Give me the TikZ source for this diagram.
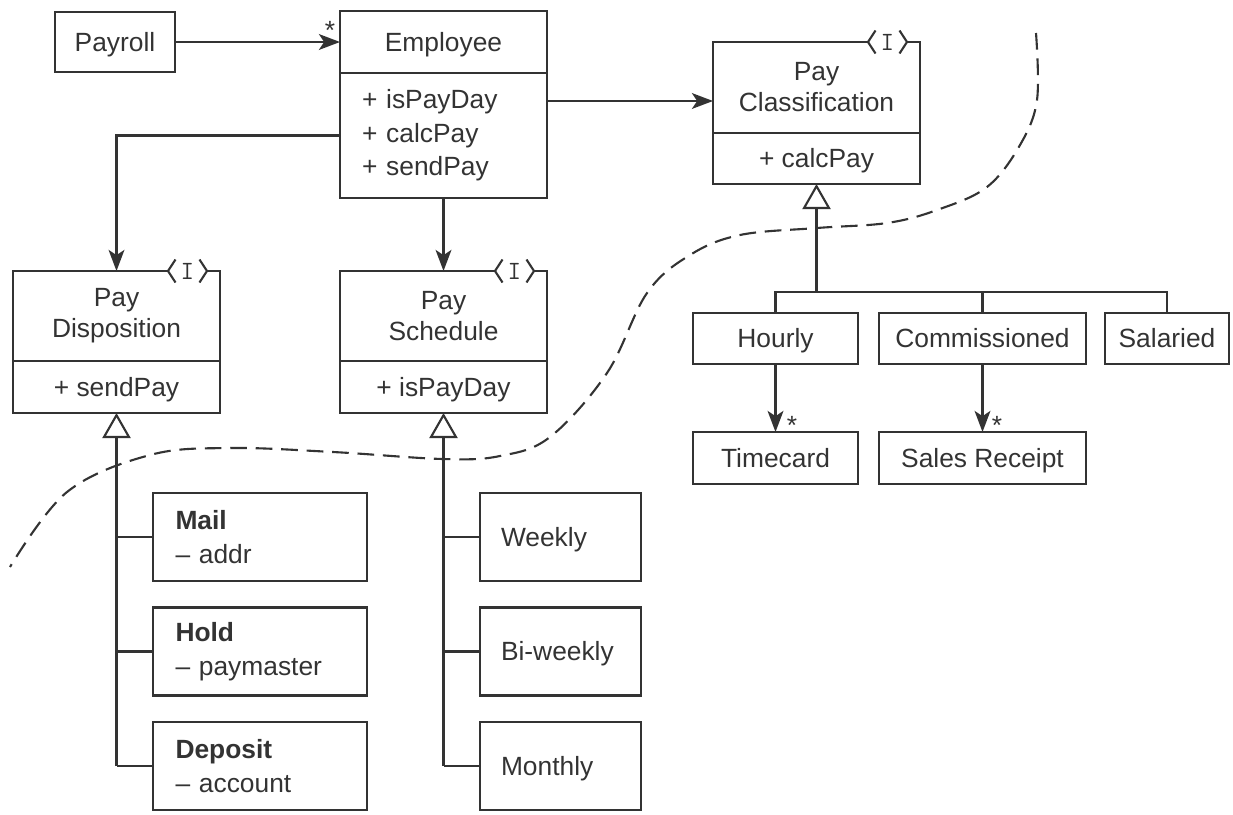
\documentclass[tikz,border=0pt]{standalone}
\usepackage{fontspec}
\setmainfont{Liberation Sans}
\usepackage{tikz}
\usetikzlibrary{positioning}
\usetikzlibrary{arrows.meta,calc}

\definecolor{inkgray}{gray}{0.2}

\tikzset{
  umlbox/.style={rectangle, draw=inkgray, text=inkgray, line width=1.2pt, outer sep=0pt, inner sep=0pt, align=center, font=\fontsize{15}{17.6}\selectfont},
  onebox/.style={umlbox, text height=12.5pt, text depth=2pt},
  listbox/.style={umlbox, align=left, font=\fontsize{15}{19}\selectfont},
  onelist/.style={listbox, text height=12.5pt, text depth=2pt},
  assoc/.style={draw=inkgray, line width=1.2pt, -{Stealth[length=12pt, width=9pt, inset=3pt]}},
  inherit/.style={draw=inkgray, line width=1.2pt, -{Triangle[open, length=0.5cm, width=0.56cm]}},
  tree/.style={draw=inkgray, line width=1.2pt},
  mult/.style={text=inkgray, inner sep=0pt, anchor=north, font=\fontsize{15}{15}\selectfont},
  boundary/.style={draw=inkgray, line width=1.2pt, dash pattern=on 9.5pt off 5pt}
}

% interface marker on the top edge of a class box
\newcommand{\ifacemark}[1]{%
  \begin{scope}[shift={(#1.north east)}]
    \fill[white] (-1.04,-0.06) rectangle (-0.26,0.06);
    \draw[inkgray, line width=1.2pt] (-0.89,0.23) -- (-1.04,0) -- (-0.89,-0.23);
    \draw[inkgray, line width=1.2pt] (-0.41,0.23) -- (-0.26,0) -- (-0.41,-0.23);
    \node[text=inkgray, inner sep=0pt, font=\fontsize{15}{15}\ttfamily] at (-0.65,0) {I};
  \end{scope}}

\begin{document}
\begin{tikzpicture}
  \useasboundingbox (0,0) rectangle (24.66,-16.28);

  % top row
  \node[onebox, minimum width=2.4cm, minimum height=1.2cm] (payroll) at (2.3,-0.84) {Payroll};
  \node[onebox, minimum width=4.14cm, minimum height=1.24cm] (empHead) at (8.87,-0.84) {Employee};
  \node[listbox, minimum width=4.14cm, minimum height=2.5cm, text width=3.26cm, below=0pt of empHead] (empBody) {+ isPayDay\\+ calcPay\\+ sendPay};
  \node[umlbox, minimum width=4.14cm, minimum height=1.82cm] (pcHead) at (16.33,-1.75) {Pay\\Classification};
  \node[onebox, minimum width=4.14cm, minimum height=1.02cm, below=0pt of pcHead] (pcBody) {+ calcPay};

  % interfaces on the left
  \node[umlbox, minimum width=4.14cm, minimum height=1.8cm] (pdHead) at (2.33,-6.32) {Pay\\Disposition};
  \node[onebox, minimum width=4.14cm, minimum height=1.04cm, below=0pt of pdHead] (pdBody) {+ sendPay};
  \node[umlbox, minimum width=4.14cm, minimum height=1.8cm] (psHead) at (8.87,-6.32) {Pay\\Schedule};
  \node[onebox, minimum width=4.14cm, minimum height=1.04cm, below=0pt of psHead] (psBody) {+ isPayDay};
  \ifacemark{pcHead}
  \ifacemark{pdHead}
  \ifacemark{psHead}

  % classifications
  \node[onebox, minimum width=3.3cm, minimum height=1.02cm] (hourly) at (15.51,-6.77) {Hourly};
  \node[onebox, minimum width=4.14cm, minimum height=1.02cm] (commissioned) at (19.65,-6.77) {Commissioned};
  \node[onebox, minimum width=2.48cm, minimum height=1.02cm] (salaried) at (23.34,-6.77) {Salaried};
  \node[onebox, minimum width=3.3cm, minimum height=1.04cm] (timecard) at (15.51,-9.16) {Timecard};
  \node[onebox, minimum width=4.14cm, minimum height=1.04cm] (receipt) at (19.65,-9.16) {Sales Receipt};

  % dispositions and schedules
  \node[listbox, minimum width=4.28cm, minimum height=1.76cm, text width=3.38cm] (mail) at (5.2,-10.74) {\textbf{Mail}\\– addr};
  \node[listbox, minimum width=4.28cm, minimum height=1.76cm, text width=3.38cm] (hold) at (5.2,-13.03) {\textbf{Hold}\\– paymaster};
  \node[listbox, minimum width=4.28cm, minimum height=1.76cm, text width=3.38cm] (deposit) at (5.2,-15.32) {\textbf{Deposit}\\– account};
  \node[onelist, minimum width=3.22cm, minimum height=1.76cm, text width=2.38cm] (weekly) at (11.21,-10.74) {Weekly};
  \node[onelist, minimum width=3.22cm, minimum height=1.76cm, text width=2.38cm] (biweekly) at (11.21,-13.03) {Bi-weekly};
  \node[onelist, minimum width=3.22cm, minimum height=1.76cm, text width=2.38cm] (monthly) at (11.21,-15.32) {Monthly};

  % associations
  \draw[assoc] (payroll.east) -- (empHead.west);
  \node[mult] (starEmp) at ($(empHead.west)+(-0.2,0.42)$) {*};
  \path (empBody.north east) ++(0,-0.56) coordinate (empOut);
  \draw[assoc] (empOut) -- (empOut -| pcHead.west);
  \draw[assoc] (empBody.west) -| (pdHead.north);
  \draw[assoc] (empBody.south) -- (psHead.north);
  \draw[assoc] (hourly.south) -- (timecard.north);
  \node[mult] (starTime) at ($(timecard.north)+(0.33,0.32)$) {*};
  \draw[assoc] (commissioned.south) -- (receipt.north);
  \node[mult] (starSales) at ($(receipt.north)+(0.29,0.32)$) {*};

  % inheritance
  \coordinate (pcJoin) at ($(pcBody.south)+(0,-2.16)$);
  \draw[inherit] (pcJoin) -- (pcBody.south);
  \draw[tree] (hourly.north) |- (pcJoin) -| (salaried.north);
  \draw[tree] (commissioned.north) -- (commissioned.north |- pcJoin);
  \draw[inherit] (deposit.west -| pdBody.south) -- (pdBody.south);
  \draw[tree] (mail.west) -- (mail.west -| pdBody.south);
  \draw[tree] (hold.west) -- (hold.west -| pdBody.south);
  \draw[tree] (deposit.west) -- (deposit.west -| pdBody.south);
  \draw[inherit] (monthly.west -| psBody.south) -- (psBody.south);
  \draw[tree] (weekly.west) -- (weekly.west -| psBody.south);
  \draw[tree] (biweekly.west) -- (biweekly.west -| psBody.south);
  \draw[tree] (monthly.west) -- (monthly.west -| psBody.south);

  % boundary line
  \draw[boundary] plot[smooth, tension=0.6] coordinates {(20.72,-0.66) (20.74,-2.0) (20.4,-2.9) (19.74,-3.74) (18.74,-4.2) (17.74,-4.46) (16.34,-4.56) (14.8,-4.7) (13.8,-5.1) (12.94,-5.86) (12.14,-7.46) (11.0,-8.74) (10.0,-9.12) (8.86,-9.18) (6.66,-9.04) (4.6,-8.96) (3.0,-9.1) (1.34,-9.84) (0.2,-11.34)};
\end{tikzpicture}
\end{document}
